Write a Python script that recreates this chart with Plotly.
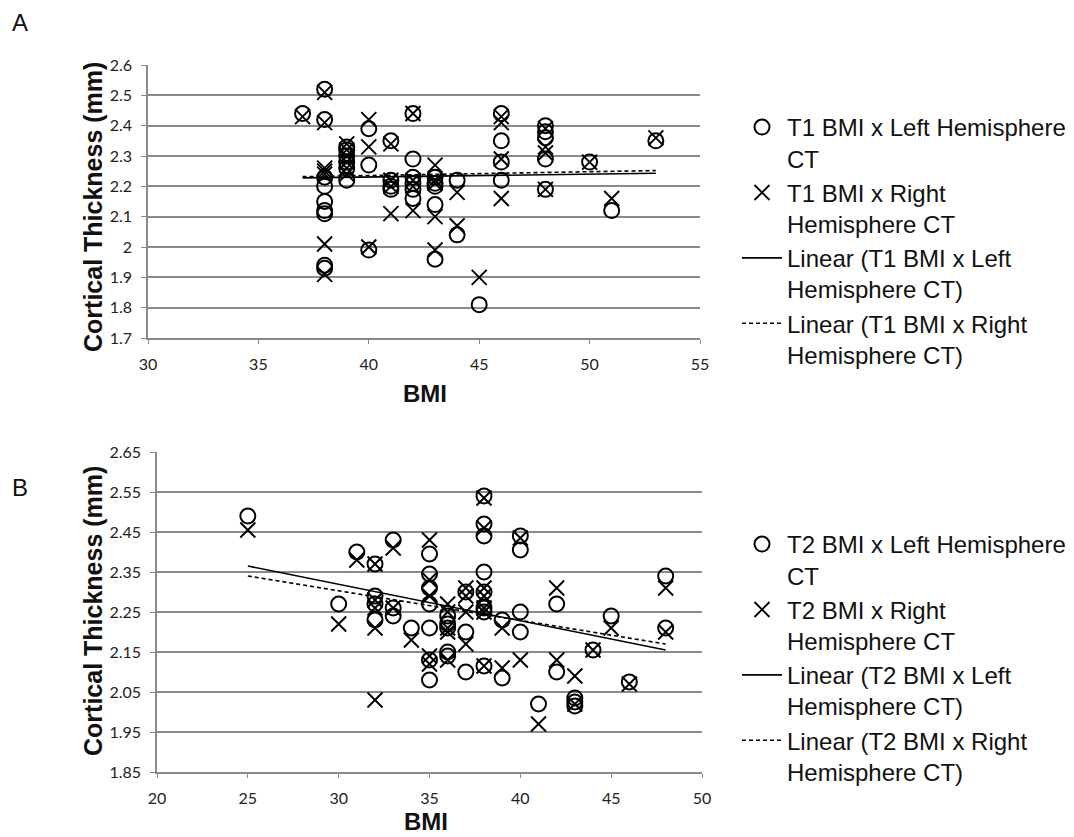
import plotly.graph_objects as go

# page body has an 8px margin; figure is sized so it fits the 1074x837 window
W, H = 1066, 829
OFF = 8

def px(x):
    return (x - OFF) / W

def py(y):
    return 1 - (y - OFF) / H

# ---------------- Panel A data (T1) ----------------
a_left_x = [37, 38, 38, 38, 38, 38, 38, 38, 38, 38,
            39, 39, 39, 39, 39, 39, 40, 40, 40, 41, 41, 41, 41,
            42, 42, 42, 42, 42, 42, 43, 43, 43, 43, 43, 44, 44, 45,
            46, 46, 46, 46, 48, 48, 48, 48, 48, 50, 51, 53]
a_left_y = [2.44, 2.52, 2.42, 2.23, 2.20, 2.15, 2.12, 2.11, 1.94, 1.93,
            2.22, 2.26, 2.28, 2.30, 2.32, 2.33, 2.39, 2.27, 1.99, 2.35, 2.22, 2.20, 2.19,
            2.44, 2.29, 2.23, 2.21, 2.19, 2.16, 2.23, 2.21, 2.20, 2.14, 1.96, 2.22, 2.04, 1.81,
            2.44, 2.35, 2.28, 2.22, 2.40, 2.38, 2.36, 2.29, 2.19, 2.28, 2.12, 2.35]
a_right_x = [37, 38, 38, 38, 38, 38, 38, 38,
             39, 39, 39, 39, 39, 39, 40, 40, 40, 41, 41, 41, 41,
             42, 42, 42, 42, 43, 43, 43, 43, 43, 44, 44, 45,
             46, 46, 46, 46, 48, 48, 48, 48, 50, 51, 53]
a_right_y = [2.43, 2.51, 2.41, 2.26, 2.25, 2.24, 2.01, 1.91,
             2.34, 2.32, 2.30, 2.28, 2.26, 2.24, 2.42, 2.33, 2.00, 2.34, 2.22, 2.20, 2.11,
             2.44, 2.22, 2.20, 2.12, 2.27, 2.22, 2.21, 2.10, 1.99, 2.18, 2.07, 1.90,
             2.43, 2.41, 2.29, 2.16, 2.39, 2.33, 2.31, 2.19, 2.28, 2.16, 2.36]
a_trend_x = [37, 53]
a_trend_left = [2.228, 2.243]
a_trend_right = [2.232, 2.252]
a_yticks = [1.7, 1.8, 1.9, 2.0, 2.1, 2.2, 2.3, 2.4, 2.5, 2.6]
a_yticktext = ["1.7", "1.8", "1.9", "2", "2.1", "2.2", "2.3", "2.4", "2.5", "2.6"]
a_xticks = [30, 35, 40, 45, 50, 55]

# ---------------- Panel B data (T2) ----------------
b_left_x = [25, 30, 31, 32, 32, 32, 32, 33, 33, 33, 34,
            35, 35, 35, 35, 35, 35, 35, 36, 36, 36, 36, 36, 37, 37, 37,
            38, 38, 38, 38, 38, 38, 38, 38, 39, 39, 40, 40, 40, 40,
            41, 42, 42, 43, 43, 43, 44, 45, 46, 48, 48]
b_left_y = [2.49, 2.27, 2.40, 2.37, 2.29, 2.27, 2.23, 2.43, 2.26, 2.24, 2.21,
            2.395, 2.345, 2.31, 2.27, 2.21, 2.13, 2.08, 2.24, 2.22, 2.21, 2.15, 2.14, 2.30, 2.20, 2.10,
            2.54, 2.47, 2.44, 2.35, 2.30, 2.26, 2.25, 2.115, 2.23, 2.085, 2.44, 2.405, 2.25, 2.20,
            2.02, 2.27, 2.10, 2.035, 2.025, 2.015, 2.155, 2.24, 2.075, 2.34, 2.21]
b_right_x = [25, 30, 31, 32, 32, 32, 32, 32, 33, 33, 34,
             35, 35, 35, 35, 35, 36, 36, 36, 36, 36, 37, 37, 37, 37,
             38, 38, 38, 38, 38, 38, 38, 39, 39, 40, 40,
             41, 42, 42, 43, 43, 44, 45, 46, 48, 48]
b_right_y = [2.455, 2.22, 2.38, 2.37, 2.28, 2.26, 2.21, 2.03, 2.41, 2.26, 2.18,
             2.43, 2.33, 2.29, 2.14, 2.12, 2.27, 2.25, 2.21, 2.20, 2.13, 2.31, 2.29, 2.25, 2.17,
             2.535, 2.46, 2.31, 2.29, 2.26, 2.25, 2.115, 2.21, 2.11, 2.435, 2.13,
             1.97, 2.31, 2.13, 2.09, 2.02, 2.155, 2.21, 2.07, 2.31, 2.20]
b_trend_x = [25, 48]
b_trend_left = [2.365, 2.155]
b_trend_right = [2.34, 2.17]
b_yticks = [1.85, 1.95, 2.05, 2.15, 2.25, 2.35, 2.45, 2.55, 2.65]
b_yticktext = ["1.85", "1.95", "2.05", "2.15", "2.25", "2.35", "2.45", "2.55", "2.65"]
b_xticks = [20, 25, 30, 35, 40, 45, 50]

names_a = ["T1 BMI x Left Hemisphere<br>CT", "T1 BMI x Right<br>Hemisphere CT",
           "Linear (T1 BMI x Left<br>Hemisphere CT)", "Linear (T1 BMI x Right<br>Hemisphere CT)"]
names_b = ["T2 BMI x Left Hemisphere<br>CT", "T2 BMI x Right<br>Hemisphere CT",
           "Linear (T2 BMI x Left<br>Hemisphere CT)", "Linear (T2 BMI x Right<br>Hemisphere CT)"]

fig = go.Figure()

def add_panel(xa, ya, leg, lx, ly, rx, ry, tx, tl, tr, names):
    fig.add_trace(go.Scatter(x=lx, y=ly, mode="markers", name=names[0], xaxis=xa, yaxis=ya,
                             legend=leg, legendgroup=leg + "1",
                             marker=dict(symbol="circle-open", size=15, color="black",
                                         line=dict(width=2, color="black"))))
    fig.add_trace(go.Scatter(x=rx, y=ry, mode="markers", name=names[1], xaxis=xa, yaxis=ya,
                             legend=leg, legendgroup=leg + "2",
                             marker=dict(symbol="x-thin-open", size=15, color="black",
                                         line=dict(width=1.9, color="black"))))
    fig.add_trace(go.Scatter(x=tx, y=tl, mode="lines", name=names[2], xaxis=xa, yaxis=ya,
                             legend=leg, legendgroup=leg + "3",
                             line=dict(color="black", width=1.6)))
    fig.add_trace(go.Scatter(x=tx, y=tr, mode="lines", name=names[3], xaxis=xa, yaxis=ya,
                             legend=leg, legendgroup=leg + "4",
                             line=dict(color="black", width=1.6, dash="4px,3px")))

add_panel("x", "y", "legend", a_left_x, a_left_y, a_right_x, a_right_y,
          a_trend_x, a_trend_left, a_trend_right, names_a)
add_panel("x2", "y2", "legend2", b_left_x, b_left_y, b_right_x, b_right_y,
          b_trend_x, b_trend_left, b_trend_right, names_b)

grid = "#8a8a8a"
tickfont = dict(family="Lato", size=16, color="#222222")

def xax(dom, rng, tv, anchor):
    return dict(domain=dom, range=rng, tickvals=tv, showgrid=False, zeroline=False,
                showline=True, linecolor=grid, linewidth=1.5, ticks="outside", ticklen=4,
                tickcolor=grid, tickfont=tickfont, anchor=anchor, automargin=False,
                ticklabelstandoff=7)

def yax(dom, rng, tv, tt, anchor):
    return dict(domain=dom, range=rng, tickvals=tv, ticktext=tt, showgrid=True,
                gridcolor=grid, gridwidth=1.5, zeroline=False, showline=True,
                linecolor=grid, linewidth=1.5, ticks="outside", ticklen=5, tickcolor=grid,
                tickfont=tickfont, anchor=anchor, automargin=False, ticklabelstandoff=6)

legfont = dict(family="Liberation Sans", size=24, color="#111111")
fig.update_layout(
    width=W, height=H, margin=dict(l=0, r=0, t=0, b=0, autoexpand=False),
    paper_bgcolor="white", plot_bgcolor="white",
    xaxis=xax([px(148), px(700)], [30, 55], a_xticks, "y"),
    yaxis=yax([py(338), py(65)], [1.7, 2.6], a_yticks, a_yticktext, "x"),
    xaxis2=xax([px(157), px(702)], [20, 50], b_xticks, "y2"),
    yaxis2=yax([py(772), py(452)], [1.85, 2.65], b_yticks, b_yticktext, "x2"),
    legend=dict(x=px(737), y=py(105), xref="container", yref="container",
                xanchor="left", yanchor="top", font=legfont,
                itemwidth=40, valign="top", tracegroupgap=0, bgcolor="rgba(0,0,0,0)"),
    legend2=dict(x=px(737), y=py(522), xref="container", yref="container",
                 xanchor="left", yanchor="top", font=legfont,
                 itemwidth=40, valign="top", tracegroupgap=0, bgcolor="rgba(0,0,0,0)"),
    showlegend=True,
)

lab_font = dict(family="Liberation Sans", size=24, color="#111111")
ytitle_font = dict(family="Liberation Sans", size=25, color="#111111")
xtitle_font = dict(family="Liberation Sans", size=24, color="#111111")
anns = [
    dict(text="A", x=px(20), y=py(23), font=lab_font, yanchor="middle"),
    dict(text="B", x=px(20), y=py(487), font=lab_font, yanchor="middle"),
    dict(text="<b>Cortical Thickness (mm)</b>", x=px(93), y=py(207), textangle=-90,
         font=ytitle_font, yanchor="middle"),
    dict(text="<b>Cortical Thickness (mm)</b>", x=px(93), y=py(611), textangle=-90,
         font=ytitle_font, yanchor="middle"),
    dict(text="<b>BMI</b>", x=px(425), y=py(393), font=xtitle_font, yanchor="middle"),
    dict(text="<b>BMI</b>", x=px(426), y=0, font=xtitle_font, yanchor="bottom"),
]
for a in anns:
    fig.add_annotation(xref="paper", yref="paper", showarrow=False, xanchor="center", **a)

fig.write_html("out.html")
